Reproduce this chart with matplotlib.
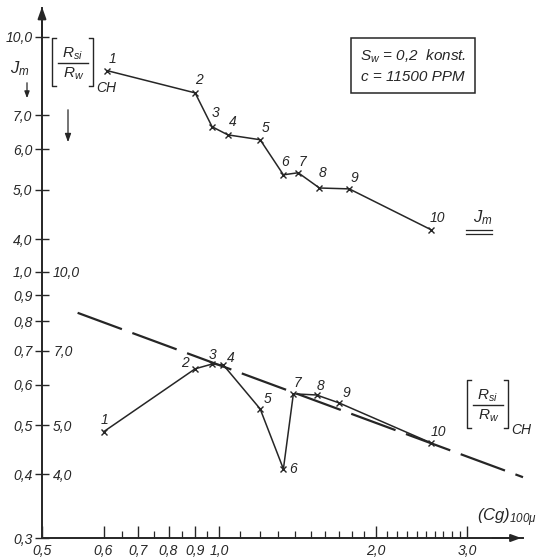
import matplotlib
matplotlib.use("Agg")
import matplotlib.pyplot as plt
from matplotlib.lines import Line2D
from matplotlib.patches import FancyArrowPatch
from matplotlib.ticker import FixedLocator, NullFormatter, NullLocator

# measuring points 1..10
point_ids = ["1", "2", "3", "4", "5", "6", "7", "8", "9", "10"]

# upper curve: J_m over (Cg)_100mu
jm_cg = [0.61, 0.90, 0.97, 1.04, 1.20, 1.33, 1.42, 1.56, 1.78, 2.56]
jm_val = [8.57, 7.75, 6.65, 6.41, 6.27, 5.35, 5.40, 5.04, 5.02, 4.17]

# lower curve: (Rsi/Rw)_CH over (Cg)_100mu
r_cg = [0.60, 0.90, 0.97, 1.02, 1.20, 1.33, 1.39, 1.54, 1.70, 2.56]
r_val = [4.85, 6.45, 6.59, 6.56, 5.38, 4.10, 5.76, 5.73, 5.53, 4.61]

# dashed straight line (log-log)
trend_cg = [0.535, 3.84]
trend_val = [8.31, 3.95]

# axis scales
x_ticks = [0.457, 0.6, 0.7, 0.8, 0.9, 1.0, 2.0, 3.0]
x_tick_labels = ["0,5", "0,6", "0,7", "0,8", "0,9", "1,0", "2,0", "3,0"]
x_minor = [0.65, 0.75, 0.85, 0.95, 1.1, 1.2, 1.3, 1.4, 1.5, 1.6, 1.7, 1.8, 1.9,
           2.1, 2.2, 2.3, 2.4, 2.5, 2.6, 2.7, 2.8, 2.9]
y_ticks = [0.3, 0.4, 0.5, 0.6, 0.7, 0.8, 0.9, 1.0]
y_tick_labels = ["0,3", "0,4", "0,5", "0,6", "0,7", "0,8", "0,9", "1,0"]
jm_ticks = [4.0, 5.0, 6.0, 7.0, 10.0]
jm_tick_labels = ["4,0", "5,0", "6,0", "7,0", "10,0"]
r_ticks = [4.0, 5.0, 7.0, 10.0]
r_tick_labels = ["4,0", "5,0", "7,0", "10,0"]

XLIM = (0.457, 3.84)
YLIM = (0.3, 3.3)
JM_FACTOR = 0.29   # J_m scale is shifted against the main scale
R_FACTOR = 10.0    # Rsi/Rw scale = 10 x main scale

INK = "#262626"
W, H = 539, 560

plt.rcParams["font.family"] = "Liberation Sans"
plt.rcParams["font.style"] = "italic"
plt.rcParams["mathtext.fontset"] = "custom"
plt.rcParams["mathtext.rm"] = "Liberation Sans:italic"
plt.rcParams["mathtext.it"] = "Liberation Sans:italic"
plt.rcParams["lines.scale_dashes"] = False


def fx(px):
    return px / W


def fy(py):
    return 1 - py / H


def line(fig, xs, ys, lw=1.0):
    fig.add_artist(Line2D([fx(v) for v in xs], [fy(v) for v in ys], color=INK, lw=lw))


def ratio_label(fig, x0, y0):
    # [Rsi / Rw]_CH drawn like the hand lettering, x0/y0 = top left of "["
    line(fig, [x0 + 4, x0, x0, x0 + 4], [y0, y0, y0 + 48, y0 + 48])
    line(fig, [x0 + 37, x0 + 41, x0 + 41, x0 + 37], [y0, y0, y0 + 48, y0 + 48])
    line(fig, [x0 + 6, x0 + 36], [y0 + 25, y0 + 25])
    fig.text(fx(x0 + 21), fy(y0 + 16), "R$_{si}$", fontsize=11, color=INK,
             ha="center", va="center")
    fig.text(fx(x0 + 22), fy(y0 + 36), "R$_w$", fontsize=11, color=INK,
             ha="center", va="center")
    fig.text(fx(x0 + 44), fy(y0 + 50), "CH", fontsize=10, color=INK,
             ha="left", va="center")


fig = plt.figure(figsize=(W / 100, H / 100), dpi=100)
fig.patch.set_facecolor("white")
ax = fig.add_axes([fx(42), fy(538), fx(523) - fx(42), fy(8) - fy(538)])
ax.set_xscale("log")
ax.set_yscale("log")
ax.set_xlim(*XLIM)
ax.set_ylim(*YLIM)
for s in ("top", "right"):
    ax.spines[s].set_visible(False)
for s in ("left", "bottom"):
    ax.spines[s].set_linewidth(1.4)
    ax.spines[s].set_color(INK)

ax.xaxis.set_major_locator(FixedLocator(x_ticks))
ax.set_xticklabels(x_tick_labels)
ax.xaxis.set_minor_locator(FixedLocator(x_minor))
ax.xaxis.set_minor_formatter(NullFormatter())
ax.tick_params(axis="x", which="major", direction="in", length=9, width=1,
               color=INK, labelsize=10, pad=4, labelcolor=INK)
ax.tick_params(axis="x", which="minor", direction="in", length=5, width=0.9, color=INK)

ax.yaxis.set_major_locator(FixedLocator(y_ticks))
ax.set_yticklabels(y_tick_labels)
ax.yaxis.set_minor_locator(NullLocator())
ax.tick_params(axis="y", direction="inout", length=10, width=1, color=INK,
               labelsize=10, pad=2, labelcolor=INK)

# J_m scale on the same spine
axj = ax.twinx()
axj.set_yscale("log")
axj.set_ylim(YLIM[0] / JM_FACTOR, YLIM[1] / JM_FACTOR)
for s in axj.spines.values():
    s.set_visible(False)
axj.yaxis.set_ticks_position("left")
axj.yaxis.set_major_locator(FixedLocator(jm_ticks))
axj.set_yticklabels(jm_tick_labels)
axj.yaxis.set_minor_locator(NullLocator())
axj.tick_params(axis="y", direction="inout", length=10, width=1, color=INK,
                labelsize=10, pad=2, labelcolor=INK)

# Rsi/Rw scale, labels right of the spine
axr = ax.twinx()
axr.set_yscale("log")
axr.set_ylim(YLIM[0] * R_FACTOR, YLIM[1] * R_FACTOR)
for s in axr.spines.values():
    s.set_visible(False)
axr.spines["right"].set_position(("axes", 0))
axr.yaxis.set_major_locator(FixedLocator(r_ticks))
axr.set_yticklabels(r_tick_labels)
axr.yaxis.set_minor_locator(NullLocator())
axr.tick_params(axis="y", length=0, labelsize=10, pad=8, labelcolor=INK)

# curves
axj.plot(jm_cg, jm_val, color=INK, lw=1.1, marker="x", ms=5, mew=1.0)
axr.plot(r_cg, r_val, color=INK, lw=1.1, marker="x", ms=5, mew=1.0)
axr.plot(trend_cg, trend_val, color=INK, lw=1.6, dashes=(34, 8), clip_on=False)

# point numbers
jm_off = [(5, -12), (4, -13), (3, -14), (5, -13), (5, -12),
          (2, -13), (4, -11), (3, -15), (5, -11), (6, -12)]
r_off = [(1, -12), (-10, -6), (0, -9), (7, -7), (7, -10),
         (10, 0), (4, -11), (4, -9), (8, -10), (7, -11)]
for lab, x, y, (dx, dy) in zip(point_ids, jm_cg, jm_val, jm_off):
    axj.annotate(lab, (x, y), xytext=(dx * 0.72, -dy * 0.72), textcoords="offset points",
                 ha="center", va="center", fontsize=10, color=INK)
for lab, x, y, (dx, dy) in zip(point_ids, r_cg, r_val, r_off):
    axr.annotate(lab, (x, y), xytext=(dx * 0.72, -dy * 0.72), textcoords="offset points",
                 ha="center", va="center", fontsize=10, color=INK)

# axis arrows
fig.add_artist(FancyArrowPatch(
    (fx(490), fy(538)), (fx(524), fy(538)), transform=fig.transFigure,
    arrowstyle="-|>,head_length=6,head_width=2.2", color=INK, lw=1.4))
fig.add_artist(FancyArrowPatch(
    (fx(42), fy(40)), (fx(42), fy(4)), transform=fig.transFigure,
    arrowstyle="-|>,head_length=7,head_width=2.5", color=INK, lw=1.4))

# labels
ratio_label(fig, 52, 38)
ratio_label(fig, 467, 380)
fig.text(fx(10), fy(69), r"$J_m$", fontsize=12, color=INK, ha="left", va="center")
fig.add_artist(FancyArrowPatch(
    (fx(27), fy(80)), (fx(27), fy(101)), transform=fig.transFigure,
    arrowstyle="-|>,head_length=4,head_width=1.5", color=INK, lw=0.9))
fig.add_artist(FancyArrowPatch(
    (fx(68), fy(107)), (fx(68), fy(145)), transform=fig.transFigure,
    arrowstyle="-|>,head_length=5,head_width=1.8", color=INK, lw=0.9))

fig.text(fx(473), fy(218), r"$J_m$", fontsize=12, color=INK, ha="left", va="center")
line(fig, [466, 492], [230, 230], lw=0.9)
line(fig, [466, 492], [233.5, 233.5], lw=0.9)

fig.text(fx(413), fy(66), "S$_w$ = 0,2  konst.\nc = 11500 PPM", fontsize=11, color=INK,
         ha="center", va="center", linespacing=1.5,
         bbox=dict(boxstyle="square,pad=0.55", fc="white", ec=INK, lw=1.1))

fig.text(fx(477), fy(518), r"$(Cg)_{100\mu}$", fontsize=12, color=INK, ha="left", va="center")

fig.savefig("out.png", dpi=100, facecolor="white")
